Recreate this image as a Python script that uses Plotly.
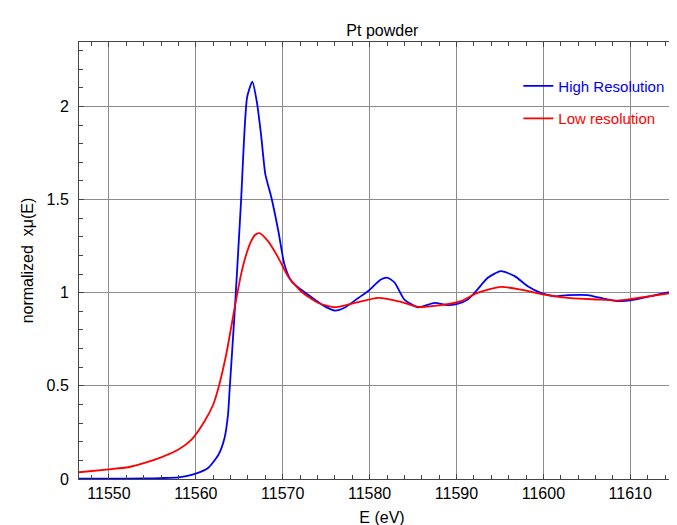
import plotly.graph_objects as go

# ---- data ----
E_high = [11546.5, 11550, 11554, 11556, 11558, 11559.9, 11561.4, 11562.6, 11563.3, 11563.7,
          11563.9, 11564.5, 11565.2, 11565.9, 11566.5, 11567.0, 11567.5, 11568.0, 11568.7, 11569.5,
          11570.2, 11571.0, 11572.1, 11573.7, 11574.8, 11576.0, 11577.1, 11578.7, 11579.8, 11581.3,
          11582.1, 11582.9, 11584.0, 11585.6, 11587.5, 11589.0, 11590.1, 11591.3, 11592.4, 11593.6,
          11595.1, 11596.7, 11598.2, 11599.7, 11601.3, 11602.8, 11605.1, 11606.6, 11608.5, 11610.5,
          11613.1, 11616.5]
mu_high = [0.002, 0.002, 0.003, 0.005, 0.009, 0.027, 0.059, 0.13, 0.22, 0.345,
           0.49, 0.92, 1.49, 2.05, 2.133, 2.03, 1.85, 1.635, 1.51, 1.33,
           1.15, 1.062, 1.017, 0.963, 0.928, 0.904, 0.919, 0.972, 1.008, 1.071,
           1.08, 1.053, 0.963, 0.922, 0.945, 0.933, 0.94, 0.963, 1.017, 1.08,
           1.116, 1.089, 1.035, 0.999, 0.981, 0.987, 0.987, 0.972, 0.955, 0.963,
           0.99, 1.022]

E_low = [11546.5, 11550, 11552.2, 11554.1, 11556.0, 11558.0, 11559.5, 11561.0, 11562.0, 11562.6,
         11563.5, 11564.5, 11565.2, 11565.7, 11566.3, 11566.8, 11567.3, 11568.3, 11569.5, 11570.6, 11572.1,
         11574.1, 11576.0, 11577.9, 11581.0, 11583.6, 11585.6, 11588.2, 11590.5, 11592.4, 11595.1,
         11597.4, 11600.1, 11602.8, 11606.6, 11608.5, 11610.5, 11616.5]
mu_low = [0.036, 0.052, 0.063, 0.086, 0.116, 0.158, 0.211, 0.31, 0.4, 0.49,
          0.67, 0.928, 1.097, 1.19, 1.27, 1.31, 1.32, 1.277, 1.187, 1.089, 1.008,
          0.945, 0.922, 0.94, 0.972, 0.951, 0.924, 0.933, 0.955, 0.999, 1.031,
          1.017, 0.99, 0.972, 0.963, 0.958, 0.969, 1.01]

x_ticks = [11550, 11560, 11570, 11580, 11590, 11600, 11610]
y_ticks = [0, 0.5, 1, 1.5, 2]

series_names = ["High Resolution", "Low resolution"]
series_colors = ["#0000ff", "#ff0000"]

FONT = "Liberation Sans, Arial, sans-serif"

fig = go.Figure()
for (xs, ys, nm, col, grp) in [(E_high, mu_high, series_names[0], series_colors[0], "a"),
                               (E_low, mu_low, series_names[1], series_colors[1], "b")]:
    fig.add_trace(go.Scatter(x=xs, y=ys, mode="lines",
                             name=f"<span style='color:{col}'>{nm}</span>",
                             line=dict(color=col, width=1.8, shape="spline", smoothing=0.6),
                             legendgroup=grp))

axis_common = dict(
    showline=True, linecolor="#444444", linewidth=1, mirror="ticks",
    ticks="inside", ticklen=5, tickcolor="#444444",
    showgrid=True, gridcolor="#8c8c8c", gridwidth=1,
    zeroline=False, automargin=False,
    tickfont=dict(family=FONT, size=16, color="black"),
)

fig.update_layout(
    width=677, height=525,
    margin=dict(l=71, r=0, t=34, b=54),
    paper_bgcolor="white", plot_bgcolor="white",
    font=dict(family=FONT, size=16, color="black"),
    title=dict(text="Pt powder", x=0.553, xanchor="center", y=0.958, yanchor="middle",
               font=dict(family=FONT, size=16, color="black")),
    xaxis=dict(range=[11546.55, 11616.3], tickvals=x_ticks, tickformat="d",
               minor=dict(dtick=2, tick0=11550, ticks="inside", ticklen=4, tickcolor="#444444",
                          showgrid=False),
               title=dict(text="E (eV)", standoff=10, font=dict(family=FONT, size=16)),
               **axis_common),
    yaxis=dict(range=[0, 2.346], tickvals=y_ticks, ticklabelstandoff=6,
               minor=dict(dtick=0.1, tick0=0, ticks="inside", ticklen=4, tickcolor="#444444",
                          showgrid=False),
               title=dict(text="normalized  xμ(E)", standoff=8, font=dict(family=FONT, size=16)),
               **axis_common),
    legend=dict(x=0.725, y=0.937, xanchor="left", yanchor="top",
                bgcolor="rgba(0,0,0,0)", tracegroupgap=10,
                font=dict(family=FONT, size=15)),
    showlegend=True,
)

fig.write_html("out.html")
